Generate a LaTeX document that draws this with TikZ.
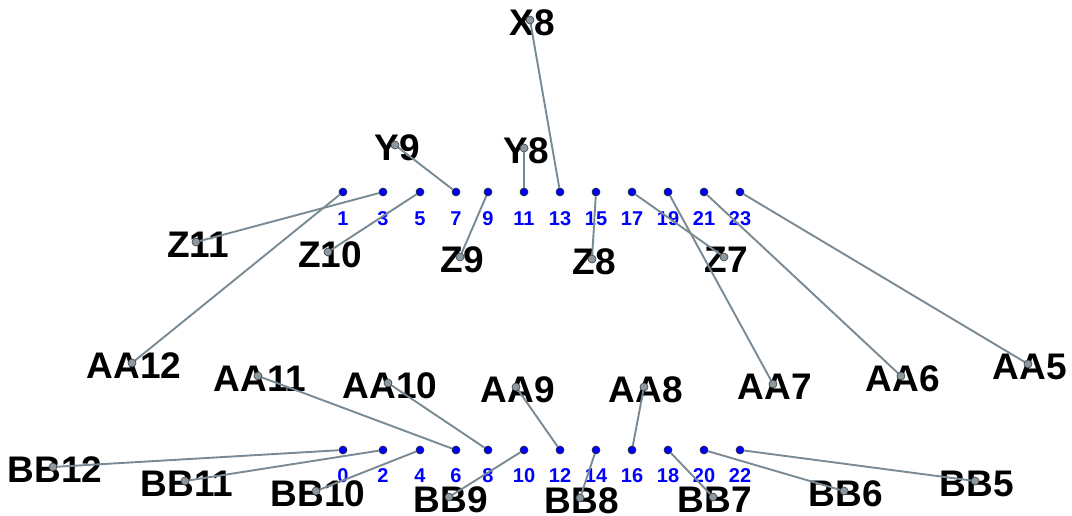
\documentclass[tikz,border=0pt]{standalone}
\usepackage{fontspec}
\setmainfont{Liberation Sans}
\definecolor{wiregray}{RGB}{122,138,148}
\definecolor{dotgray}{RGB}{140,152,160}

\begin{document}
\begin{tikzpicture}[x=1pt, y=-1pt,
    pinpt/.style={circle, draw=black!85, fill=blue, line width=0.6pt,
                  inner sep=0pt, minimum size=8pt},
    pinnum/.style={text=blue, font=\fontsize{20}{20}\selectfont\bfseries},
    tag/.style={font=\fontsize{37}{37}\selectfont\bfseries, xshift=2pt, yshift=-2.5pt},
    tagdot/.style={circle, draw=black!75, fill=dotgray, line width=0.6pt,
                   inner sep=0pt, minimum size=8pt},
    wire/.style={draw=wiregray, line width=1.9pt}]

  \useasboundingbox (0,0) rectangle (1072,516);

  % === Upper row (odd) ===
  \foreach \n/\x in {1/343,3/383,5/420,7/456,9/488,11/524,13/560,15/596,17/632,19/668,21/704,23/740}{
    \node[pinnum] (tn\n) at (\x,219) {\n};
  }

  % === Lower row (even) ===
  \foreach \n/\x in {0/343,2/383,4/420,6/456,8/488,10/524,12/560,14/596,16/632,18/668,20/704,22/740}{
    \node[pinnum] (bn\n) at (\x,476) {\n};
  }

  % Labels
  \foreach \name/\x/\y in {X8/530/20, Y9/395/145, Y8/524/148,
      Z11/196/242, Z10/328/252, Z9/460/257, Z8/592/259, Z7/724/257,
      AA12/132/363, AA11/258/376, AA10/388/383, AA9/516/387, AA8/644/387,
      AA7/773/384, AA6/901/376, AA5/1028/364,
      BB12/53/467, BB11/185/481, BB10/316/491, BB9/449/497, BB8/580/498,
      BB7/713/497, BB6/844/491, BB5/975/481}{
    \node[tag] (\name-txt) at (\x,\y) {\name};
    \coordinate (\name) at (\x,\y);
  }

  % Pins
  \foreach \n/\x in {1/343,3/383,5/420,7/456,9/488,11/524,13/560,15/596,17/632,19/668,21/704,23/740}
    \node[pinpt] (t\n) at (\x,192) {};
  \foreach \n/\x in {0/343,2/383,4/420,6/456,8/488,10/524,12/560,14/596,16/632,18/668,20/704,22/740}
    \node[pinpt] (b\n) at (\x,450) {};

  % Wires
  \foreach \name/\pin in {X8/t13, Y9/t7, Y8/t11, Z11/t3, Z10/t5, Z9/t9, Z8/t15, Z7/t17,
      AA12/t1, AA7/t19, AA6/t21, AA5/t23, AA11/b6, AA10/b8, AA9/b12, AA8/b16,
      BB12/b0, BB11/b2, BB10/b4, BB9/b10, BB8/b14, BB7/b18, BB6/b20, BB5/b22}{
    \draw[wire] (\name) -- (\pin);
    \node[tagdot] (\name-dot) at (\name) {};
  }

\end{tikzpicture}
\end{document}
